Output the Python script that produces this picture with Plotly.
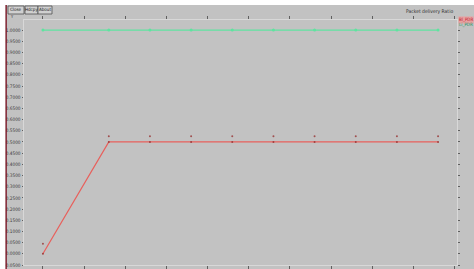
import plotly.graph_objects as go

# data
x_vals = [0, 8, 13, 18, 23, 28, 33, 38, 43, 48]
red_pdr = [0.0, 0.5, 0.5, 0.5, 0.5, 0.5, 0.5, 0.5, 0.5, 0.5]
red_marks = [0.045, 0.525, 0.525, 0.525, 0.525, 0.525, 0.525, 0.525, 0.525, 0.525]
green_pdr = [1.0, 1.0, 1.0, 1.0, 1.0, 1.0, 1.0, 1.0, 1.0, 1.0]
x_ticks = [0, 5, 10, 15, 20, 25, 30, 35, 40, 45, 50]
title_text = "Packet delivery Ratio"
legend_names = ["Bl_PDR", "Li_PDR"]
buttons = ["Close", "Hdcpy", "About"]

W, H = 474, 269
L, R, T, B = 24, 17, 20, 4
BG = "#c2c2c2"
RED = "#e8605c"
GREEN = "#5fe3a0"
FONT = "DejaVu Sans Condensed"

fig = go.Figure()
fig.add_trace(go.Scatter(x=x_vals, y=green_pdr, mode="lines+markers",
                         line=dict(color=GREEN, width=1.2),
                         marker=dict(color=GREEN, size=3), name=legend_names[1]))
fig.add_trace(go.Scatter(x=x_vals, y=red_pdr, mode="lines+markers",
                         line=dict(color=RED, width=1.2),
                         marker=dict(color="#a04040", size=2), name=legend_names[0]))
fig.add_trace(go.Scatter(x=x_vals, y=red_marks, mode="markers",
                         marker=dict(color="#a05050", size=2), showlegend=False))

fig.update_layout(
    width=W, height=H,
    margin=dict(l=L, r=R, t=T, b=B, autoexpand=False),
    paper_bgcolor=BG, plot_bgcolor=BG,
    showlegend=False,
    font=dict(family=FONT, size=4.7, color="#404040"),
)
fig.update_xaxes(range=[-2.3, 50.3], tickvals=x_ticks, tickformat=".4f",
                 ticks="outside", ticklen=3, tickcolor="#606060",
                 showgrid=False, zeroline=False, showline=True, linecolor="#d8d8d8",
                 mirror="ticks", automargin=False, tickfont=dict(size=5))
fig.update_yaxes(range=[-0.05, 1.045], tick0=-0.05, dtick=0.05, tickformat=".4f",
                 ticks="outside", ticklen=1.5, tickcolor="#606060",
                 showgrid=False, zeroline=False, showline=True, linecolor="#d8d8d8",
                 mirror="ticks", automargin=False, tickfont=dict(size=4.7))


def px_x(px):
    return (px - L) / (W - L - R)


def px_y(py):
    return (H - B - py) / (H - T - B)


# window chrome: white strip top/left, dark red left line
fig.add_shape(type="rect", xref="paper", yref="paper", x0=px_x(0), x1=px_x(474),
              y0=px_y(5), y1=px_y(0), fillcolor="white", line_width=0)
fig.add_shape(type="rect", xref="paper", yref="paper", x0=px_x(0), x1=px_x(5.5),
              y0=px_y(269), y1=px_y(0), fillcolor="white", line_width=0)
fig.add_shape(type="rect", xref="paper", yref="paper", x0=px_x(5.5), x1=px_x(6.8),
              y0=px_y(269), y1=px_y(5), fillcolor="#7a1020", line_width=0)

bx = [(8, 24), (25, 38), (38, 52)]
for (a, b), lab in zip(bx, buttons):
    fig.add_shape(type="rect", xref="paper", yref="paper", x0=px_x(a), x1=px_x(b),
                  y0=px_y(14), y1=px_y(6), fillcolor="#d0d0d0",
                  line=dict(color="#505050", width=0.8))
    fig.add_annotation(x=px_x((a + b) / 2), y=px_y(10), xref="paper", yref="paper",
                       text=lab, showarrow=False, font=dict(size=4.5, color="#202020"),
                       xanchor="center", yanchor="middle")
fig.add_annotation(x=px_x(8), y=px_y(16.5), xref="paper", yref="paper", text="Y",
                   showarrow=False, font=dict(size=4, color="#303030"),
                   xanchor="left", yanchor="middle")

fig.add_annotation(x=px_x(455), y=px_y(11), xref="paper", yref="paper", text=title_text,
                   showarrow=False, font=dict(size=5, color="#303030"),
                   xanchor="right", yanchor="middle")
fig.add_annotation(x=px_x(458), y=px_y(20), xref="paper", yref="paper", text=legend_names[0],
                   showarrow=False, font=dict(size=4.5, color="#c02030"), bgcolor="#e8a0a0",
                   xanchor="left", yanchor="middle", borderpad=0)
fig.add_annotation(x=px_x(458), y=px_y(25), xref="paper", yref="paper", text=legend_names[1],
                   showarrow=False, font=dict(size=4.5, color="#209060"),
                   xanchor="left", yanchor="middle", borderpad=0)

fig.write_html("out.html", config={"displayModeBar": False},
               post_script="document.body.style.margin='0';document.body.style.overflow='hidden';")
